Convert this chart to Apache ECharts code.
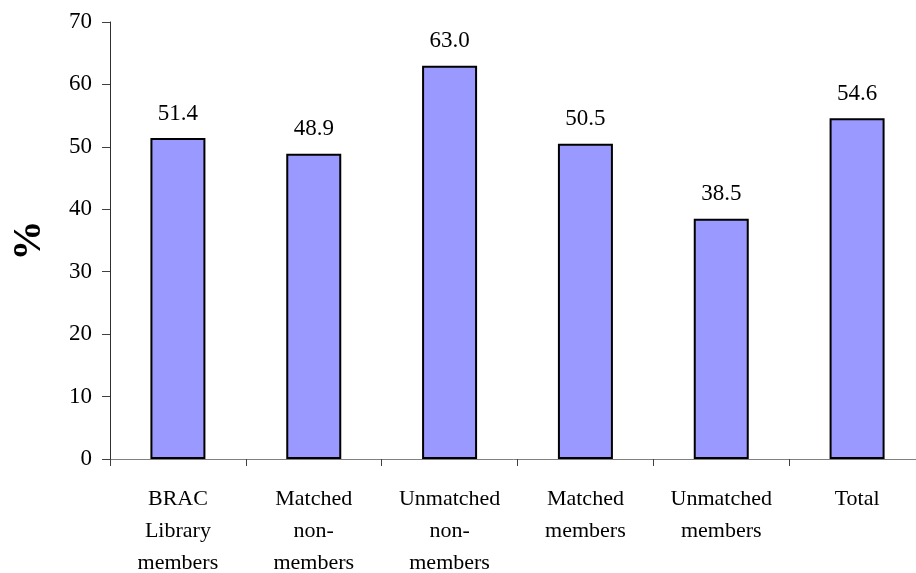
<!DOCTYPE html>
<html>
<head>
<meta charset="utf-8">
<script src="https://cdn.jsdelivr.net/npm/echarts@6/dist/echarts.min.js"></script>
<style>
  html, body { margin: 0; padding: 0; background: #fff; }
  #chart { width: 916px; height: 573px; }
</style>
</head>
<body>
<div id="chart"></div>
<script>
// Groups along the x axis (line breaks kept as drawn)
const categories = [
  'BRAC\nLibrary\nmembers',
  'Matched\nnon-\nmembers',
  'Unmatched\nnon-\nmembers',
  'Matched\nmembers',
  'Unmatched\nmembers',
  'Total'
];
// Percentage for each group
const values = [51.4, 48.9, 63.0, 50.5, 38.5, 54.6];
// Value axis range
const yMin = 0;
const yMax = 70;
const yStep = 10;

const serif = '"Liberation Serif", "Times New Roman", serif';

const chart = echarts.init(document.getElementById('chart'));
chart.setOption({
  animation: false,
  backgroundColor: '#ffffff',
  grid: {
    left: 110, top: 22, width: 815, height: 437,
    containLabel: false,
    outerBoundsMode: 'none'
  },
  xAxis: {
    type: 'category',
    data: categories,
    boundaryGap: true,
    axisLine: { lineStyle: { color: '#808080', width: 1 } },
    axisTick: { show: true, alignWithLabel: false, length: 7, lineStyle: { color: '#404040' } },
    axisLabel: {
      interval: 0,
      margin: 24,
      color: '#000',
      fontFamily: serif,
      fontSize: 22,
      lineHeight: 32
    },
    splitLine: { show: false }
  },
  yAxis: {
    type: 'value',
    min: yMin,
    max: yMax,
    interval: yStep,
    name: '%',
    nameLocation: 'middle',
    nameGap: 60,
    nameRotate: 90,
    nameTextStyle: { fontFamily: serif, fontSize: 40, fontWeight: 'bold', color: '#000' },
    axisLine: { show: true, lineStyle: { color: '#303030', width: 1 } },
    axisTick: { show: true, length: 8, lineStyle: { color: '#404040' } },
    axisLabel: { margin: 18, color: '#000', fontFamily: serif, fontSize: 23 },
    splitLine: { show: false }
  },
  series: [{
    type: 'bar',
    data: values,
    barWidth: 55,
    itemStyle: { color: '#9999FF', borderColor: '#000000', borderWidth: 2 },
    label: {
      show: true,
      position: 'top',
      distance: 13,
      color: '#000',
      fontFamily: serif,
      fontSize: 23,
      formatter: p => p.value.toFixed(1)
    }
  }]
});
</script>
</body>
</html>
